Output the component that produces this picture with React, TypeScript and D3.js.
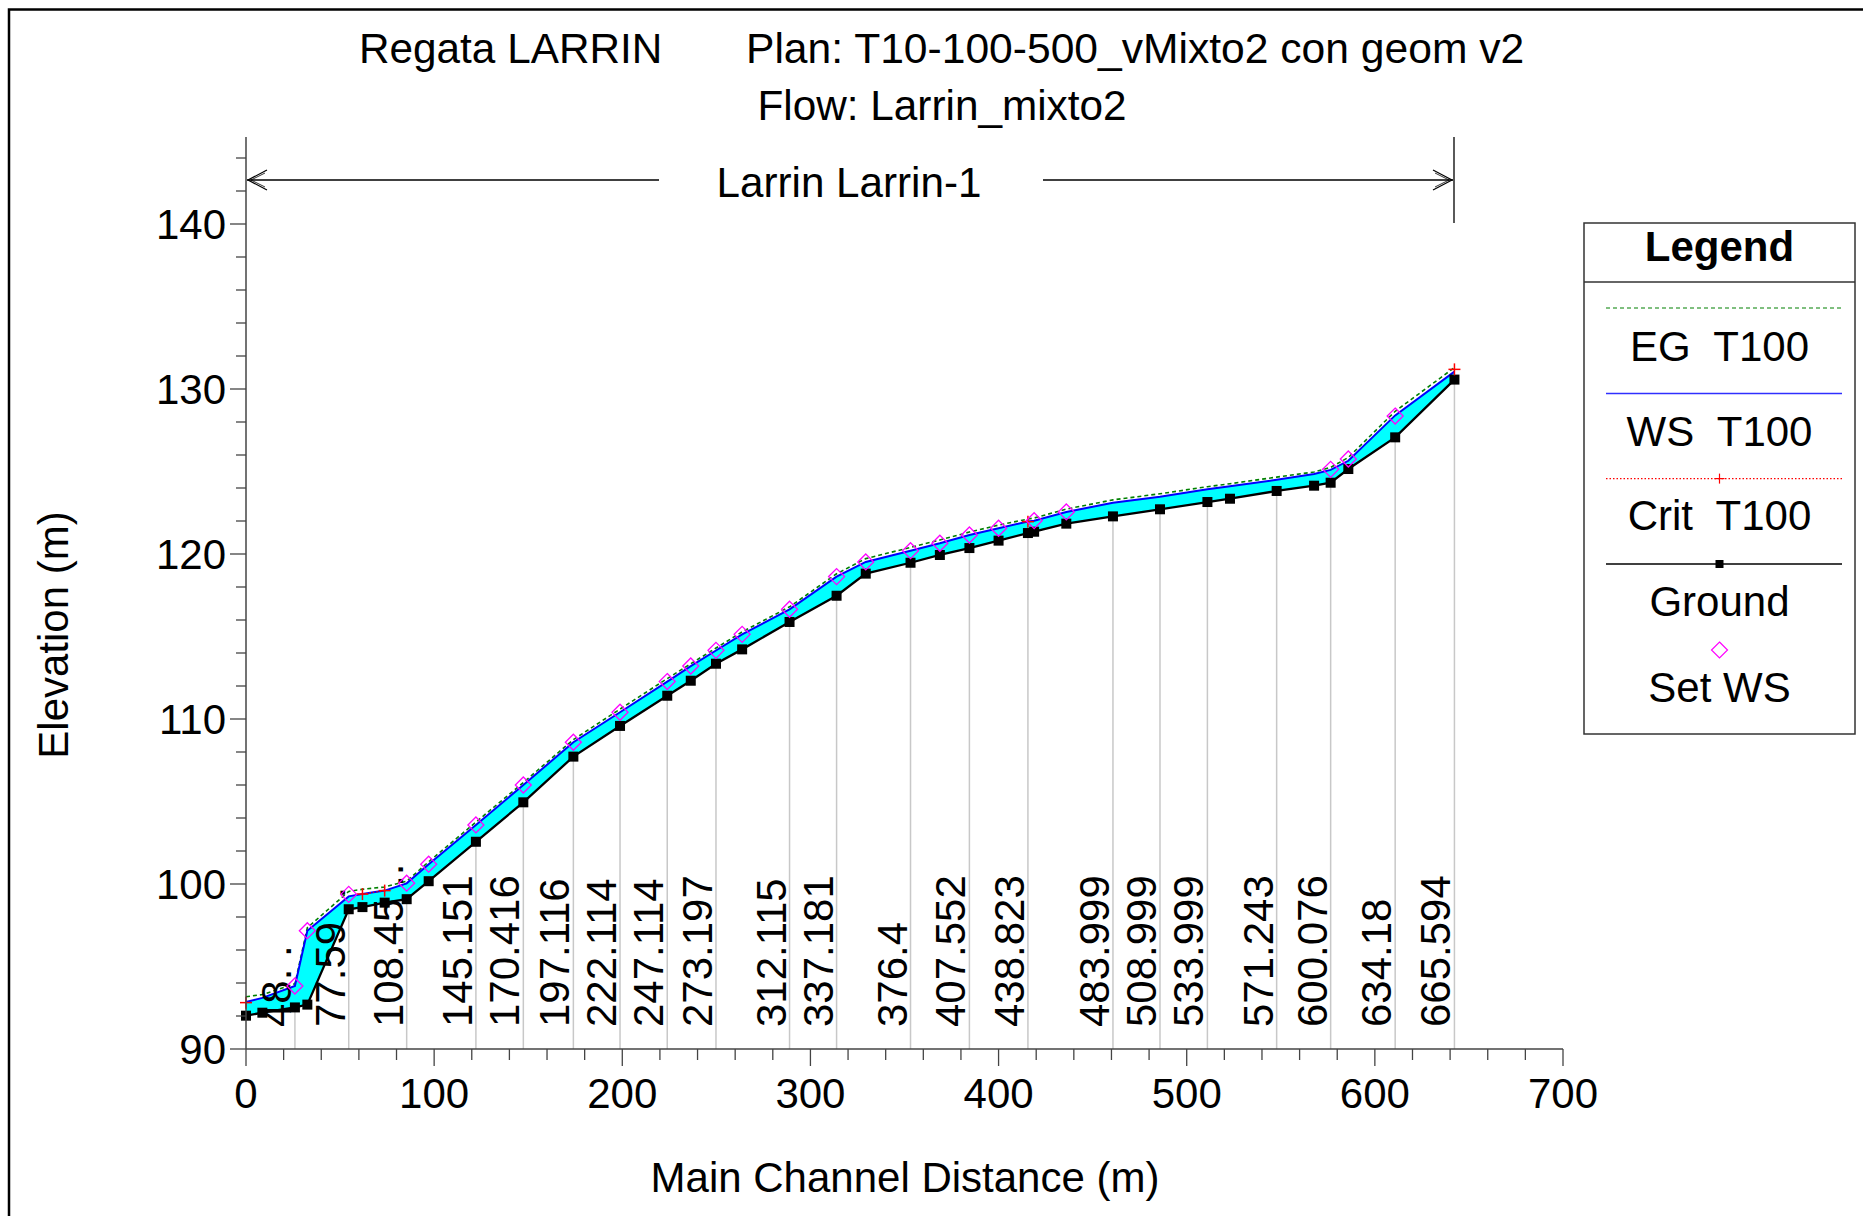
import React from "react";
import * as d3 from "d3";

// ---------- data ----------
const stations = [0, 8.7, 26.0, 32.6, 54.6, 61.9, 73.7, 85.4, 97.1, 122.2, 147.4, 174.0, 198.8, 223.9, 236.4, 249.8, 263.7, 288.9, 313.9, 329.4, 353.2, 368.8, 384.5, 400.0, 415.6, 418.9, 436.0, 460.8, 485.8, 511.0, 523.0, 547.8, 567.7, 576.5, 585.9, 610.8, 642.3];
const ground = [92.02, 92.2, 92.52, 92.69, 98.47, 98.6, 98.87, 99.08, 100.17, 102.56, 104.95, 107.72, 109.58, 111.41, 112.32, 113.35, 114.22, 115.88, 117.47, 118.81, 119.47, 119.94, 120.36, 120.81, 121.27, 121.35, 121.84, 122.28, 122.71, 123.15, 123.35, 123.82, 124.14, 124.32, 125.15, 127.07, 130.57];
const wsT100 = [92.85, 93.1, 93.82, 97.17, 99.25, 99.39, 99.6, 100.04, 101.2, 103.58, 106.0, 108.59, 110.41, 112.27, 113.2, 114.15, 115.13, 116.65, 118.63, 119.52, 120.2, 120.65, 121.15, 121.56, 121.97, 122.02, 122.55, 123.1, 123.47, 123.92, 124.1, 124.5, 124.85, 125.1, 125.65, 128.4, 131.05];
const egT100 = [93.17, 93.3, 93.95, 97.35, 99.55, 99.68, 99.82, 100.17, 101.35, 103.75, 106.15, 108.75, 110.6, 112.45, 113.35, 114.3, 115.28, 116.8, 118.8, 119.72, 120.4, 120.85, 121.33, 121.75, 122.12, 122.18, 122.72, 123.28, 123.65, 124.08, 124.26, 124.66, 124.97, 125.25, 125.85, 128.65, 131.3];
const critT100: (number | null)[] = [92.81, null, null, null, null, 99.39, 99.6, null, null, null, null, null, null, null, null, null, null, null, null, null, null, null, null, null, 121.96, null, null, null, null, null, null, null, null, null, null, null, 131.19];
const setWs: (number | null)[] = [null, null, 93.82, 97.17, 99.37, null, null, 100.05, 101.2, 103.58, 106.0, 108.59, 110.41, 112.27, 113.21, 114.16, 115.13, 116.65, 118.63, 119.52, 120.2, 120.65, 121.15, 121.56, null, 122.02, 122.55, null, null, null, null, null, null, 125.13, 125.76, 128.36, null];

const sectionLabels = ["48. .", "77.59  .", "108.45 ..", "145.151", "170.416", "197.116", "222.114", "247.114", "273.197", "312.115", "337.181", "376.4", "407.552", "438.823", "483.999", "508.999", "533.999", "571.243", "600.076", "634.18", "665.594"];
const labelDist = [26.0, 54.6, 85.4, 122.2, 147.4, 174.0, 198.8, 223.9, 249.8, 288.9, 313.9, 353.2, 384.5, 415.6, 460.8, 485.8, 511.0, 547.8, 576.5, 610.8, 642.3];

const xMajorTicks = [0, 100, 200, 300, 400, 500, 600, 700];
const yMajorTicks = [90, 100, 110, 120, 130, 140];

const titleLeft = "Regata LARRIN";
const titleRight = "Plan: T10-100-500_vMixto2 con geom v2";
const titleFlow = "Flow: Larrin_mixto2";
const reachName = "Larrin Larrin-1";
const legendItems = ["EG  T100", "WS  T100", "Crit  T100", "Ground", "Set WS"];

const FONT = "'Liberation Sans', Arial, Helvetica, sans-serif";

export default function App() {
  const x = d3.scaleLinear().domain([0, 700]).range([246, 1563]);
  const y = d3.scaleLinear().domain([90, 140]).range([1049, 224]);

  const idx = stations.map((_, i) => i);
  const area = d3
    .area<number>()
    .x((i) => x(stations[i]))
    .y0((i) => y(ground[i]))
    .y1((i) => y(wsT100[i]));
  const lineOf = (arr: (number | null)[]) =>
    d3
      .line<number>()
      .defined((i) => arr[i] != null)
      .x((i) => x(stations[i]))
      .y((i) => y(arr[i] as number));

  const groundAt = (d: number) => {
    const i = stations.findIndex((s) => Math.abs(s - d) < 0.01);
    if (i >= 0) return ground[i];
    return d3.scaleLinear().domain(stations).range(ground)(d);
  };

  const xMinor = d3.range(0, 701, 20);
  const yMinor = d3.range(90, 145, 2);
  const axisColor = "#444";

  const legX0 = 1584, legX1 = 1855, legCx = (legX0 + legX1) / 2;
  const legLineY = [308, 393.5, 478.6, 564, 650];
  const legTextY = [361, 446, 530, 615.6, 701.7];

  return (
    <svg
      width={1863}
      height={1216}
      style={{ position: "absolute", left: 0, top: 0, background: "#fff" }}
      fontFamily={FONT}
    >
      <rect x={0} y={0} width={1863} height={1216} fill="#fff" />
      {/* outer border */}
      <rect x={9} y={9.5} width={2200} height={2200} fill="none" stroke="#000" strokeWidth={2.5} />

      {/* titles */}
      <text x={359} y={63} fontSize={42.3}>{titleLeft}</text>
      <text x={746} y={63} fontSize={42.6}>{titleRight}</text>
      <text x={942} y={120} fontSize={42.3} textAnchor="middle">{titleFlow}</text>

      {/* reach bracket */}
      <line x1={1454} x2={1454} y1={137} y2={223} stroke="#000" strokeWidth={1.3} />
      <line x1={247} x2={659} y1={180} y2={180} stroke="#000" strokeWidth={1.3} />
      <line x1={1043} x2={1453} y1={180} y2={180} stroke="#000" strokeWidth={1.3} />
      <polyline points="267,170 248,180 267,190" fill="none" stroke="#000" strokeWidth={1.2} />
      <polyline points="265,173 251,180 265,187" fill="none" stroke="#000" strokeWidth={0.8} />
      <polyline points="1433,170 1452,180 1433,190" fill="none" stroke="#000" strokeWidth={1.2} />
      <polyline points="1435,173 1449,180 1435,187" fill="none" stroke="#000" strokeWidth={0.8} />
      <text x={849} y={197} fontSize={42.2} textAnchor="middle">{reachName}</text>

      {/* gray section lines */}
      {labelDist.map((d, i) => (
        <line
          key={"g" + i}
          x1={x(d)}
          x2={x(d)}
          y1={y(groundAt(d))}
          y2={y(90)}
          stroke="#c8c8c8"
          strokeWidth={1.5}
        />
      ))}

      {/* water fill */}
      <path d={area(idx) || ""} fill="#00ffff" stroke="none" />

      {/* EG */}
      <path d={lineOf(egT100)(idx) || ""} fill="none" stroke="#008000" strokeWidth={1.6} strokeDasharray="4,3" />
      {/* WS */}
      <path d={lineOf(wsT100)(idx) || ""} fill="none" stroke="#0000ff" strokeWidth={2} />
      {/* Crit */}
      <path d={lineOf(critT100)(idx) || ""} fill="none" stroke="#ff0000" strokeWidth={1.3} strokeDasharray="1.5,2" />
      {/* Ground */}
      <path d={lineOf(ground)(idx) || ""} fill="none" stroke="#000" strokeWidth={2.3} />

      {/* section labels */}
      {labelDist.map((d, i) => (
        <text
          key={"l" + i}
          transform={`translate(${x(d) - 4},1027) rotate(-90)`}
          fontSize={42}
          style={{ whiteSpace: "pre" }}
        >
          {sectionLabels[i]}
        </text>
      ))}

      {/* ground markers */}
      {stations.map((s, i) => (
        <rect key={"gm" + i} x={x(s) - 5} y={y(ground[i]) - 5} width={10} height={10} fill="#000" />
      ))}
      {/* crit markers */}
      {stations.map((s, i) =>
        critT100[i] == null ? null : (
          <g key={"c" + i} stroke="#ff0000" strokeWidth={1.5}>
            <line x1={x(s) - 6} x2={x(s) + 6} y1={y(critT100[i] as number)} y2={y(critT100[i] as number)} />
            <line x1={x(s)} x2={x(s)} y1={y(critT100[i] as number) - 6} y2={y(critT100[i] as number) + 6} />
          </g>
        )
      )}
      {/* set WS markers */}
      {stations.map((s, i) =>
        setWs[i] == null ? null : (
          <path
            key={"sw" + i}
            d={`M${x(s)},${y(setWs[i] as number) - 8} L${x(s) + 8},${y(setWs[i] as number)} L${x(s)},${y(setWs[i] as number) + 8} L${x(s) - 8},${y(setWs[i] as number)} Z`}
            fill="none"
            stroke="#ff00ff"
            strokeWidth={1.3}
          />
        )
      )}

      {/* axes */}
      <line x1={246} x2={246} y1={137} y2={1049} stroke={axisColor} strokeWidth={1.5} />
      <line x1={246} x2={1563} y1={1049} y2={1049} stroke={axisColor} strokeWidth={1.5} />
      {yMinor.map((v) => (
        <line key={"ym" + v} x1={v % 10 === 0 ? 230 : 236} x2={246} y1={y(v)} y2={y(v)} stroke={axisColor} strokeWidth={1.3} />
      ))}
      {yMajorTicks.map((v) => (
        <text key={"yl" + v} x={226} y={y(v) + 15} fontSize={42} textAnchor="end">{v}</text>
      ))}
      {xMinor.map((v) => (
        <line key={"xm" + v} x1={x(v)} x2={x(v)} y1={1049} y2={v % 100 === 0 ? 1066 : 1060} stroke={axisColor} strokeWidth={1.3} />
      ))}
      {xMajorTicks.map((v) => (
        <text key={"xl" + v} x={x(v)} y={1108} fontSize={42} textAnchor="middle">{v}</text>
      ))}
      <text x={905} y={1192} fontSize={42} textAnchor="middle">Main Channel Distance (m)</text>
      <text transform="translate(68,635) rotate(-90)" fontSize={42} textAnchor="middle">Elevation (m)</text>

      {/* legend */}
      <rect x={legX0} y={223} width={legX1 - legX0} height={734 - 223} fill="#fff" stroke="#333" strokeWidth={1.5} />
      <line x1={legX0} x2={legX1} y1={282} y2={282} stroke="#333" strokeWidth={1.5} />
      <text x={legCx} y={261} fontSize={42} fontWeight="bold" textAnchor="middle">Legend</text>
      <line x1={1606} x2={1842} y1={legLineY[0]} y2={legLineY[0]} stroke="#008000" strokeWidth={1.2} strokeDasharray="4,3" />
      <line x1={1606} x2={1842} y1={legLineY[1]} y2={legLineY[1]} stroke="#3030ff" strokeWidth={1.5} />
      <line x1={1606} x2={1842} y1={legLineY[2]} y2={legLineY[2]} stroke="#ff0000" strokeWidth={1.2} strokeDasharray="1.5,2" />
      <g stroke="#ff0000" strokeWidth={1.2}>
        <line x1={legCx - 5} x2={legCx + 5} y1={legLineY[2]} y2={legLineY[2]} />
        <line x1={legCx} x2={legCx} y1={legLineY[2] - 5} y2={legLineY[2] + 5} />
      </g>
      <line x1={1606} x2={1842} y1={legLineY[3]} y2={legLineY[3]} stroke="#000" strokeWidth={1.5} />
      <rect x={legCx - 4} y={legLineY[3] - 4} width={8} height={8} fill="#000" />
      <path
        d={`M${legCx},${legLineY[4] - 8} L${legCx + 8},${legLineY[4]} L${legCx},${legLineY[4] + 8} L${legCx - 8},${legLineY[4]} Z`}
        fill="none"
        stroke="#ff00ff"
        strokeWidth={1.2}
      />
      {legendItems.map((t, i) => (
        <text key={"lt" + i} x={legCx} y={legTextY[i]} fontSize={42} textAnchor="middle" style={{ whiteSpace: "pre" }}>
          {t}
        </text>
      ))}
    </svg>
  );
}
